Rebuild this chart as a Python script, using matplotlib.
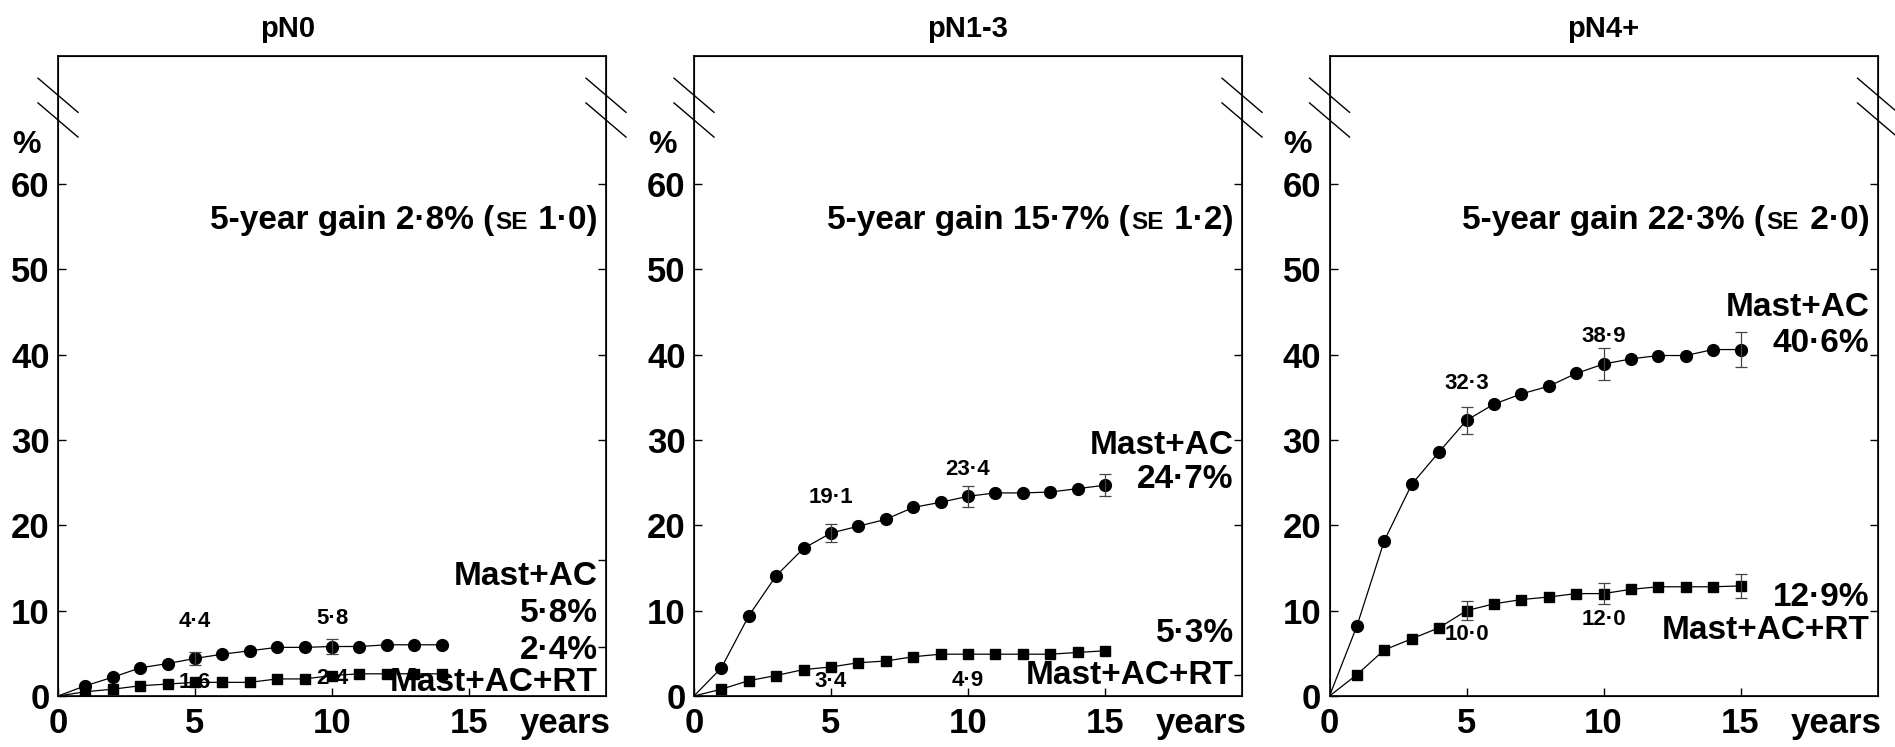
import matplotlib
matplotlib.use("Agg")
import matplotlib.pyplot as plt
from matplotlib.offsetbox import TextArea, HPacker, AnnotationBbox

plt.rcParams['font.family'] = ['Liberation Sans', 'DejaVu Sans']
plt.rcParams['font.weight'] = 'bold'

# data, year 0 = origin of each curve
titles = ['pN0', 'pN1-3', 'pN4+']

years_n0 = [0, 1, 2, 3, 4, 5, 6, 7, 8, 9, 10, 11, 12, 13, 14]
n0_ac = [0, 1.2, 2.2, 3.3, 3.8, 4.4, 4.9, 5.3, 5.7, 5.7, 5.8, 5.8, 6.0, 6.0, 6.0]
n0_rt = [0, 0.5, 0.8, 1.2, 1.4, 1.6, 1.6, 1.6, 2.0, 2.0, 2.4, 2.6, 2.6, 2.6, 2.6]

years = [0, 1, 2, 3, 4, 5, 6, 7, 8, 9, 10, 11, 12, 13, 14, 15]
n13_ac = [0, 3.3, 9.4, 14.1, 17.3, 19.1, 19.9, 20.7, 22.1, 22.7, 23.4, 23.8, 23.8, 23.9, 24.3, 24.7]
n13_rt = [0, 0.8, 1.8, 2.4, 3.1, 3.4, 3.9, 4.1, 4.6, 4.9, 4.9, 4.9, 4.9, 4.9, 5.1, 5.3]
n4_ac = [0, 8.2, 18.2, 24.8, 28.6, 32.3, 34.2, 35.4, 36.3, 37.8, 38.9, 39.5, 39.9, 39.9, 40.6, 40.6]
n4_rt = [0, 2.5, 5.4, 6.7, 8.0, 10.0, 10.8, 11.3, 11.6, 12.0, 12.0, 12.5, 12.8, 12.8, 12.8, 12.9]

# standard errors shown as bars
err_years_n0 = [5, 10]
n0_ac_se = [0.8, 0.9]
err_years = [5, 10, 15]
n13_ac_se = [1.05, 1.25, 1.3]
n4_ac_se = [1.6, 1.85, 2.0]
n4_rt_se = [1.1, 1.25, 1.45]

gain = ['2·8%', '15·7%', '22·3%']
gain_se = ['1·0', '1·2', '2·0']

# value labels at 5 and 10 years
ac_marks = [['4·4', '5·8'], ['19·1', '23·4'], ['32·3', '38·9']]
rt_marks = [['1·6', '2·4'], ['3·4', '4·9'], ['10·0', '12·0']]
ac_final = ['5·8%', '24·7%', '40·6%']
rt_final = ['2·4%', '5·3%', '12·9%']

panels = [
    dict(x=years_n0, ac=n0_ac, rt=n0_rt, ex=err_years_n0, ac_se=n0_ac_se, rt_se=None,
         ac_mark_y=[8.7, 9.1], rt_mark_y=[1.6, 2.0], title_x=0.42,
         lab_y=[14.0, 9.7, 5.3, 1.6], rticks=[5.8, 15.9, 30, 40, 50, 60]),
    dict(x=years, ac=n13_ac, rt=n13_rt, ex=err_years, ac_se=n13_ac_se, rt_se=None,
         ac_mark_y=[23.3, 26.5], rt_mark_y=[1.65, 1.8], title_x=0.5,
         lab_y=[29.4, 25.4, 7.3, 2.35], rticks=[2.5, 20, 30, 40, 50, 60]),
    dict(x=years, ac=n4_ac, rt=n4_rt, ex=err_years, ac_se=n4_ac_se, rt_se=n4_rt_se,
         ac_mark_y=[36.6, 42.1], rt_mark_y=[7.2, 9.0], title_x=0.5,
         lab_y=[45.5, 41.3, 11.6, 7.7], rticks=[10, 20, 30, 40, 50, 60]),
]

fig = plt.figure(figsize=(18.95, 7.47), dpi=100)
lefts = [58, 694, 1329.5]

for i, p in enumerate(panels):
    ax = fig.add_axes([lefts[i] / 1895, 51 / 747, 548 / 1895, 640 / 747])
    ax.set_xlim(0, 20)
    ax.set_ylim(0, 75)

    ax.plot(p['x'], p['ac'], color='black', lw=0.9, marker='o', ms=8.5,
            markevery=slice(1, None))
    ax.plot(p['x'], p['rt'], color='black', lw=0.9, marker='s', ms=7.5,
            markevery=slice(1, None))

    ac_at = [p['ac'][p['x'].index(e)] for e in p['ex']]
    ax.errorbar(p['ex'], ac_at, yerr=p['ac_se'], fmt='none', ecolor='#444444',
                elinewidth=0.9, capsize=4, capthick=0.9)
    if p['rt_se'] is not None:
        rt_at = [p['rt'][p['x'].index(e)] for e in p['ex']]
        ax.errorbar(p['ex'], rt_at, yerr=p['rt_se'], fmt='none', ecolor='#444444',
                    elinewidth=0.9, capsize=4, capthick=0.9)

    for k, xx in enumerate([5, 10]):
        ax.text(xx, p['ac_mark_y'][k], ac_marks[i][k], ha='center', va='center', fontsize=16)
        ax.text(xx, p['rt_mark_y'][k], rt_marks[i][k], ha='center', va='center', fontsize=16)

    ly = p['lab_y']
    for txt, yy in zip(['Mast+AC', ac_final[i], rt_final[i], 'Mast+AC+RT'], ly):
        ax.text(19.7, yy, txt, ha='right', va='center', fontsize=24)

    # "5-year gain ... (SE ...)" with small-caps SE
    parts = [TextArea('5-year gain ' + gain[i] + ' (', textprops=dict(fontsize=24, fontweight='bold')),
             TextArea('SE', textprops=dict(fontsize=17.5, fontweight='bold')),
             TextArea(' ' + gain_se[i] + ')', textprops=dict(fontsize=24, fontweight='bold'))]
    box = HPacker(children=parts, align='baseline', pad=0, sep=1)
    ab = AnnotationBbox(box, (19.7, 55.7), xycoords='data', box_alignment=(1, 0.5),
                        frameon=False)
    ax.add_artist(ab)

    ax.set_title(titles[i], fontsize=21, fontweight='bold', pad=14, x=p['title_x'])
    ax.text(-1.15, 64.6, '%', ha='center', va='center', fontsize=23)

    ax.set_yticks([0, 10, 20, 30, 40, 50, 60])
    ax.set_xticks([0, 5, 10, 15, 18.5])
    ax.set_xticklabels(['0', '5', '10', '15', 'years'])
    ax.xaxis.get_major_ticks()[-1].tick1line.set_visible(False)
    ax.tick_params(axis='both', direction='in', length=6, width=1, labelsize=25)
    ax.tick_params(axis='x', pad=8)
    ax.tick_params(axis='y', pad=6)

    # right-hand ticks without labels
    ax2 = ax.twinx()
    ax2.set_ylim(0, 75)
    ax2.set_yticks(p['rticks'])
    ax2.set_yticklabels([])
    ax2.tick_params(axis='y', direction='in', length=6, width=1)

    for sp in ax.spines.values():
        sp.set_linewidth(1.2)

    # axis break marks on both sides
    for xc in (0, 20):
        for yc in (70.4, 67.5):
            ax.plot([xc - 0.73, xc + 0.73], [yc + 2.0, yc - 2.0], color='black',
                    lw=1, clip_on=False)

fig.savefig('out.png', dpi=100)
